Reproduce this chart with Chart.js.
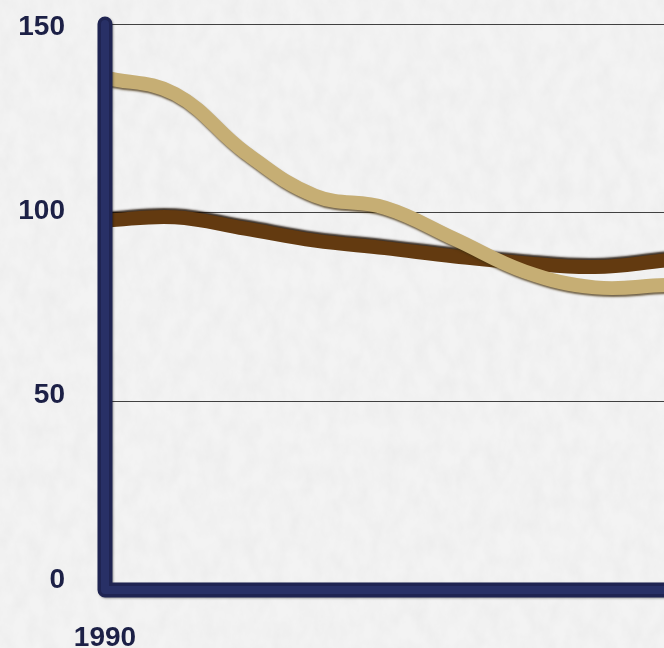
<!DOCTYPE html>
<html>
<head>
<meta charset="utf-8">
<script src="https://cdn.jsdelivr.net/npm/chart.js@4/dist/chart.umd.min.js"></script>
<style>
  html, body { margin: 0; padding: 0; background: #f1f1f1; }
  #wrap { width: 664px; height: 648px; overflow: hidden; position: relative; background-color: #f3f3f3;
          background-image: url("data:image/svg+xml,%3Csvg xmlns='http://www.w3.org/2000/svg' width='664' height='648'%3E%3Cfilter id='n'%3E%3CfeTurbulence type='fractalNoise' baseFrequency='0.07 0.045' numOctaves='4' seed='7'/%3E%3CfeColorMatrix type='matrix' values='0 0 0 0 0.45  0 0 0 0 0.45  0 0 0 0 0.45  0.15 0 0 0 -0.045'/%3E%3C/filter%3E%3Crect width='100%25' height='100%25' filter='url(%23n)'/%3E%3C/svg%3E"); }
  #chart { display: block; }
</style>
</head>
<body>
<div id="wrap"><canvas id="chart" width="700" height="648"></canvas></div>
<script>
// Years on the horizontal axis
const years = ['1990', '1991', '1992', '1993', '1994', '1995', '1996', '1997', '1998'];
// Index values for the two series
const lightSeries = [135.8, 131.5, 116.0, 104.5, 101.3, 93.0, 84.4, 80.2, 80.8];
const darkSeries  = [97.9, 98.8, 95.8, 92.6, 90.6, 88.4, 86.6, 85.6, 87.3];
// Value axis ticks
const yTicks = [0, 50, 100, 150];

const TEXT = '#1c2046';

// Soft drop shadow under each line for a rounded, raised look
const lineShadow = {
  id: 'lineShadow',
  beforeDatasetDraw(chart, args) {
    const ctx = chart.ctx;
    ctx.save();
    if (args.index === 0) {
      ctx.shadowColor = 'rgba(70, 50, 15, 0.75)';
      ctx.shadowOffsetX = 1;
      ctx.shadowOffsetY = 2;
      ctx.shadowBlur = 2;
    } else {
      ctx.shadowColor = 'rgba(25, 12, 0, 0.85)';
      ctx.shadowOffsetX = 0;
      ctx.shadowOffsetY = -2;
      ctx.shadowBlur = 2;
    }
  },
  afterDatasetDraw(chart) {
    chart.ctx.restore();
  }
};

// Heavy rounded frame along the left and bottom of the plot
const axisFrame = {
  id: 'axisFrame',
  afterDatasetsDraw(chart) {
    const { ctx, chartArea } = chart;
    const x0 = chartArea.left, y0 = chartArea.bottom, yt = chartArea.top;
    const xr = chart.width + 40;
    ctx.save();
    ctx.lineCap = 'round';
    ctx.lineJoin = 'round';
    ctx.shadowColor = 'rgba(0,0,0,0.35)';
    ctx.shadowOffsetX = 1;
    ctx.shadowOffsetY = 1;
    ctx.shadowBlur = 2;
    ctx.strokeStyle = '#1f2452';
    ctx.lineWidth = 15;
    ctx.beginPath();
    ctx.moveTo(x0, yt);
    ctx.lineTo(x0, y0);
    ctx.lineTo(xr, y0);
    ctx.stroke();
    ctx.shadowColor = 'transparent';
    ctx.strokeStyle = '#283066';
    ctx.lineWidth = 8;
    ctx.beginPath();
    ctx.moveTo(x0, yt);
    ctx.lineTo(x0, y0);
    ctx.lineTo(xr, y0);
    ctx.stroke();
    ctx.restore();
  }
};

new Chart(document.getElementById('chart'), {
  type: 'line',
  data: {
    labels: years,
    datasets: [
      {
        label: 'Series A',
        data: lightSeries,
        borderColor: '#c6ae74',
        borderWidth: 14,
        tension: 0.4,
        pointRadius: 0,
        borderCapStyle: 'round',
        borderJoinStyle: 'round',
        fill: false
      },
      {
        label: 'Series B',
        data: darkSeries,
        borderColor: '#633a10',
        borderWidth: 14,
        tension: 0.4,
        pointRadius: 0,
        borderCapStyle: 'round',
        borderJoinStyle: 'round',
        fill: false
      }
    ]
  },
  options: {
    responsive: false,
    animation: false,
    layout: { padding: { top: 24, right: 35, left: 0, bottom: 0 } },
    plugins: { legend: { display: false }, tooltip: { enabled: false } },
    scales: {
      x: {
        type: 'category',
        offset: false,
        grid: { display: false, drawTicks: false },
        border: { display: false },
        ticks: {
          autoSkip: false,
          maxRotation: 0,
          padding: 31,
          color: TEXT,
          font: { family: 'Liberation Sans', size: 28, weight: 'bold' },
          callback(value, index) {
            const y = Number(years[index]);
            return y % 10 === 0 ? years[index] : '';
          }
        },
        afterFit(scale) { scale.height = 58; scale.paddingLeft = 0; scale.paddingRight = 0; }
      },
      // value scale: carries the grid lines and the series
      y: {
        position: 'left',
        min: 0,
        max: 150,
        afterBuildTicks(scale) { scale.ticks = yTicks.map(v => ({ value: v })); },
        grid: { color: 'rgba(20,20,20,0.8)', lineWidth: 1, drawTicks: false },
        border: { display: false },
        ticks: { display: false },
        afterFit(scale) { scale.width = 0; scale.paddingTop = 0; scale.paddingBottom = 0; }
      },
      // label scale: prints the tick numbers beside the frame, set slightly tighter
      yLabels: {
        position: 'left',
        min: -2.7,
        max: 150.8,
        afterBuildTicks(scale) { scale.ticks = yTicks.map(v => ({ value: v })); },
        grid: { display: false, drawTicks: false },
        border: { display: false },
        ticks: {
          padding: 40,
          color: TEXT,
          font: { family: 'Liberation Sans', size: 28, weight: 'bold' }
        },
        afterFit(scale) { scale.width = 105; scale.paddingTop = 0; scale.paddingBottom = 0; }
      }
    }
  },
  plugins: [lineShadow, axisFrame]
});
</script>
</body>
</html>
